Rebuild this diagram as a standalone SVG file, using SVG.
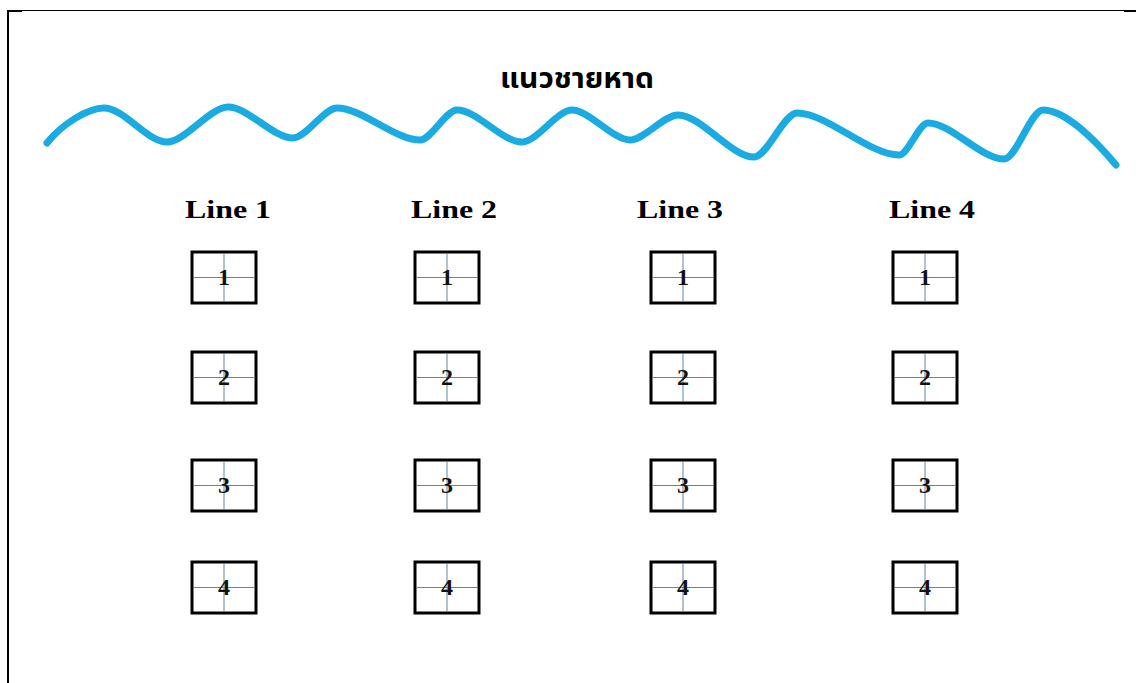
<svg xmlns="http://www.w3.org/2000/svg" width="1136" height="683" viewBox="0 0 1136 683">
<style>
.frame{stroke:#000;fill:none}
.wave{fill:none;stroke:#19ABE2;stroke-width:7;stroke-linecap:round;stroke-linejoin:round}
.box{fill:#fff;stroke:#000;stroke-width:3}
.cross{stroke:#5F86A6;stroke-width:1}
.num{font-family:"Liberation Serif","Times New Roman",serif;font-weight:bold;font-size:24px;text-anchor:middle;fill:#111}
.lbl{font-family:"Liberation Serif","Times New Roman",serif;font-weight:bold;font-size:25px;text-anchor:middle;fill:#000}
.title{font-family:"Noto Sans Thai","Noto Sans","DejaVu Sans",sans-serif;font-weight:bold;font-size:28px;text-anchor:middle;fill:#000}
</style>
<rect width="1136" height="683" fill="#fff"/>
<g id="frame">
<line class="frame" x1="7" y1="10.5" x2="1136" y2="10.5" stroke-width="1"/>
<line class="frame" x1="8" y1="10" x2="8" y2="683" stroke-width="2"/>
<rect x="7" y="10" width="15" height="2" fill="#000"/>
<rect x="1124" y="10" width="12" height="2" fill="#000"/>
</g>
<g id="title"><text class="title" x="577" y="88" textLength="154" lengthAdjust="spacingAndGlyphs">แนวชายหาด</text></g>
<g id="shoreline">
<path class="wave" d="M47,143 C62,124 88,108 104,108 C124,108 147,142 167,142 C185,142 210,107 228,107 C248,107 273,138 293,138 C306,138 324,108 337,108 C362,108 395,140 420,140 C431,140 446,110 457,110 C477,110 502,142 522,142 C537,142 557,110 572,110 C589,110 613,140 630,140 C644,140 664,115 678,115 C701,115 731,157 754,157 C767,157 784,113 797,113 C827,113 869,155 899,155 C908,155 919,123 928,123 C951,123 981,159 1004,159 C1016,159 1031,110 1043,110 C1065,110 1095,140 1116,165"/>
</g>
<g id="labels">
<text class="lbl" x="228" y="218" textLength="86" lengthAdjust="spacingAndGlyphs">Line 1</text>
<text class="lbl" x="454" y="218" textLength="86" lengthAdjust="spacingAndGlyphs">Line 2</text>
<text class="lbl" x="680" y="218" textLength="86" lengthAdjust="spacingAndGlyphs">Line 3</text>
<text class="lbl" x="932" y="218" textLength="86" lengthAdjust="spacingAndGlyphs">Line 4</text>
</g>
<g id="connectors"></g>
<defs>
<g id="q">
<rect class="box" x="0" y="0" width="64" height="51"/>
<line class="cross" x1="32" y1="1.5" x2="32" y2="49.5"/>
<line class="cross" x1="1.5" y1="25.5" x2="62.5" y2="25.5"/>
</g>
</defs>
<g id="L1-1"><use href="#q" x="192" y="252"/><text class="num" x="224" y="285">1</text></g>
<g id="L1-2"><use href="#q" x="192" y="352"/><text class="num" x="224" y="385">2</text></g>
<g id="L1-3"><use href="#q" x="192" y="460"/><text class="num" x="224" y="493">3</text></g>
<g id="L1-4"><use href="#q" x="192" y="562"/><text class="num" x="224" y="595">4</text></g>
<g id="L2-1"><use href="#q" x="415" y="252"/><text class="num" x="447" y="285">1</text></g>
<g id="L2-2"><use href="#q" x="415" y="352"/><text class="num" x="447" y="385">2</text></g>
<g id="L2-3"><use href="#q" x="415" y="460"/><text class="num" x="447" y="493">3</text></g>
<g id="L2-4"><use href="#q" x="415" y="562"/><text class="num" x="447" y="595">4</text></g>
<g id="L3-1"><use href="#q" x="651" y="252"/><text class="num" x="683" y="285">1</text></g>
<g id="L3-2"><use href="#q" x="651" y="352"/><text class="num" x="683" y="385">2</text></g>
<g id="L3-3"><use href="#q" x="651" y="460"/><text class="num" x="683" y="493">3</text></g>
<g id="L3-4"><use href="#q" x="651" y="562"/><text class="num" x="683" y="595">4</text></g>
<g id="L4-1"><use href="#q" x="893" y="252"/><text class="num" x="925" y="285">1</text></g>
<g id="L4-2"><use href="#q" x="893" y="352"/><text class="num" x="925" y="385">2</text></g>
<g id="L4-3"><use href="#q" x="893" y="460"/><text class="num" x="925" y="493">3</text></g>
<g id="L4-4"><use href="#q" x="893" y="562"/><text class="num" x="925" y="595">4</text></g>
</svg>
